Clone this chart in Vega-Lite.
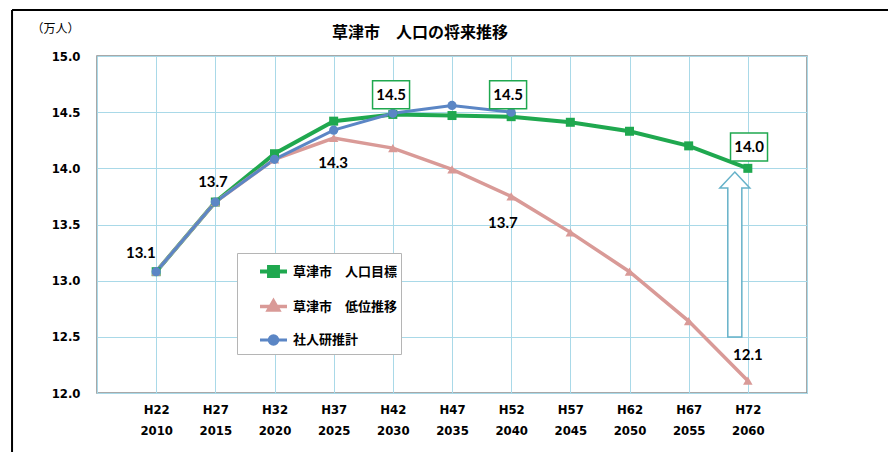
{
  "$schema": "https://vega.github.io/schema/vega-lite/v6.json",
  "autosize": "none",
  "width": 710,
  "height": 337,
  "padding": {"left": 97, "top": 56, "right": 81, "bottom": 59},
  "background": "white",
  "config": {
    "view": {"stroke": "#8c8c8c", "strokeWidth": 1.5},
    "font": "Noto Sans CJK JP"
  },
  "title": {
    "text": "草津市　人口の将来推移",
    "font": "Noto Sans CJK JP",
    "fontSize": 16,
    "fontWeight": "bold",
    "color": "#000000",
    "anchor": "middle",
    "dx": -32,
    "offset": -32
  },
  "datasets": {
    "pop": [
      {"year": 2010, "series": "草津市　人口目標", "value": 13.08},
      {"year": 2015, "series": "草津市　人口目標", "value": 13.70},
      {"year": 2020, "series": "草津市　人口目標", "value": 14.13},
      {"year": 2025, "series": "草津市　人口目標", "value": 14.42},
      {"year": 2030, "series": "草津市　人口目標", "value": 14.48},
      {"year": 2035, "series": "草津市　人口目標", "value": 14.47},
      {"year": 2040, "series": "草津市　人口目標", "value": 14.46},
      {"year": 2045, "series": "草津市　人口目標", "value": 14.41},
      {"year": 2050, "series": "草津市　人口目標", "value": 14.33},
      {"year": 2055, "series": "草津市　人口目標", "value": 14.20},
      {"year": 2060, "series": "草津市　人口目標", "value": 14.00},
      {"year": 2010, "series": "草津市　低位推移", "value": 13.08},
      {"year": 2015, "series": "草津市　低位推移", "value": 13.70},
      {"year": 2020, "series": "草津市　低位推移", "value": 14.08},
      {"year": 2025, "series": "草津市　低位推移", "value": 14.27},
      {"year": 2030, "series": "草津市　低位推移", "value": 14.18},
      {"year": 2035, "series": "草津市　低位推移", "value": 13.99},
      {"year": 2040, "series": "草津市　低位推移", "value": 13.75},
      {"year": 2045, "series": "草津市　低位推移", "value": 13.43},
      {"year": 2050, "series": "草津市　低位推移", "value": 13.08},
      {"year": 2055, "series": "草津市　低位推移", "value": 12.64},
      {"year": 2060, "series": "草津市　低位推移", "value": 12.11},
      {"year": 2010, "series": "社人研推計", "value": 13.08},
      {"year": 2015, "series": "社人研推計", "value": 13.70},
      {"year": 2020, "series": "社人研推計", "value": 14.08},
      {"year": 2025, "series": "社人研推計", "value": 14.34},
      {"year": 2030, "series": "社人研推計", "value": 14.49},
      {"year": 2035, "series": "社人研推計", "value": 14.56},
      {"year": 2040, "series": "社人研推計", "value": 14.50}
    ],
    "labels": [
      {"year": 2008.7, "value": 13.25, "text": "13.1", "boxed": false},
      {"year": 2014.8, "value": 13.88, "text": "13.7", "boxed": false},
      {"year": 2024.95, "value": 14.05, "text": "14.3", "boxed": false},
      {"year": 2029.85, "value": 14.655, "text": "14.5", "boxed": true},
      {"year": 2039.74, "value": 14.655, "text": "14.5", "boxed": true},
      {"year": 2039.3, "value": 13.51, "text": "13.7", "boxed": false},
      {"year": 2060.1, "value": 14.19, "text": "14.0", "boxed": true},
      {"year": 2060.0, "value": 12.34, "text": "12.1", "boxed": false}
    ]
  },
  "layer": [
    {
      "data": {"values": [{}]},
      "mark": {"type": "rule", "color": "#000000", "strokeWidth": 2, "clip": false},
      "encoding": {
        "x": {"datum": 1997.82, "type": "quantitative", "scale": {"domain": [2005, 2065], "nice": false, "zero": false}},
        "x2": {"datum": 2080},
        "y": {"datum": 15.41, "type": "quantitative", "scale": {"domain": [12, 15], "nice": false, "zero": false}}
      }
    },
    {
      "data": {"values": [{}]},
      "mark": {"type": "rule", "color": "#000000", "strokeWidth": 2, "clip": false},
      "encoding": {
        "x": {"datum": 1997.82, "type": "quantitative"},
        "y": {"datum": 15.41, "type": "quantitative"},
        "y2": {"datum": 11.0}
      }
    },
    {
      "data": {"values": [{}]},
      "mark": {
        "type": "point",
        "filled": true,
        "fill": "white",
        "stroke": "#66b2c9",
        "strokeWidth": 1.5,
        "opacity": 1,
        "size": 27225,
        "shape": "M0,-1L0.182,-0.806L0.085,-0.806L0.085,1L-0.085,1L-0.085,-0.806L-0.182,-0.806Z"
      },
      "encoding": {
        "x": {"datum": 2058.9, "type": "quantitative"},
        "y": {"datum": 13.233, "type": "quantitative"}
      }
    },
    {
      "data": {"name": "pop"},
      "mark": {"type": "line"},
      "encoding": {
        "x": {
          "field": "year",
          "type": "quantitative",
          "scale": {"domain": [2005, 2065], "nice": false, "zero": false},
          "axis": {
            "values": [2005, 2010, 2015, 2020, 2025, 2030, 2035, 2040, 2045, 2050, 2055, 2060, 2065],
            "labelExpr": "datum.value == 2005 || datum.value == 2065 ? '' : ['H' + (datum.value - 1988), '' + datum.value]",
            "title": null,
            "grid": true,
            "gridColor": "#a9d9e8",
            "gridWidth": 1,
            "domain": false,
            "ticks": false,
            "labelFont": "Liberation Sans Narrow, DejaVu Sans Condensed, sans-serif",
            "labelFontSize": 13,
            "labelFontWeight": "bold",
            "labelColor": "#000000",
            "labelPadding": 10,
            "labelLineHeight": 21,
            "labelFlush": false,
            "labelOverlap": false
          }
        },
        "y": {
          "field": "value",
          "type": "quantitative",
          "scale": {"domain": [12, 15], "nice": false, "zero": false},
          "axis": {
            "values": [12, 12.5, 13, 13.5, 14, 14.5, 15],
            "format": ".1f",
            "title": "（万人）",
            "titleAngle": 0,
            "titleX": -42,
            "titleY": -28,
            "titleAlign": "center",
            "titleBaseline": "middle",
            "titleFont": "Noto Sans CJK JP",
            "titleFontSize": 12,
            "titleFontWeight": "normal",
            "titleColor": "#000000",
            "grid": true,
            "gridColor": "#a9d9e8",
            "gridWidth": 1,
            "domain": false,
            "ticks": false,
            "labelFont": "Liberation Sans Narrow, DejaVu Sans Condensed, sans-serif",
            "labelFontSize": 13,
            "labelFontWeight": "bold",
            "labelColor": "#000000",
            "labelPadding": 17,
            "labelFlush": false,
            "labelOverlap": false
          }
        },
        "color": {
          "field": "series",
          "type": "nominal",
          "scale": {
            "domain": ["草津市　人口目標", "草津市　低位推移", "社人研推計"],
            "range": ["#1fa84f", "#d99a97", "#5b86c5"]
          },
          "legend": {
            "orient": "none",
            "legendX": 140,
            "legendY": 197,
            "title": null,
            "padding": 3,
            "fillColor": "white",
            "strokeColor": "#b5b5b5",
            "symbolSize": 729,
            "symbolType": "M-1,0H1",
            "symbolStrokeWidth": 3,
            "symbolOffset": 18,
            "labelOffset": 4,
            "rowPadding": 7,
            "labelFont": "Noto Sans CJK JP",
            "labelFontSize": 13,
            "labelFontWeight": "bold",
            "labelColor": "#000000",
            "labelLimit": 300,
            "labelExpr": "datum.label + '　　'",
            "encode": {
              "symbols": {
                "update": {
                  "shape": {"signal": "datum.value === '草津市　人口目標' ? 'M-1,0H1M-0.33,-0.33H0.33V0.33H-0.33Z' : datum.value === '草津市　低位推移' ? 'M-1,0H1M0,-0.4L0.38,0.26L-0.38,0.26Z' : 'M-1,0H1M-0.32,0A0.32,0.32 0 1,0 0.32,0A0.32,0.32 0 1,0 -0.32,0Z'"},
                  "fill": {"signal": "datum.value === '草津市　人口目標' ? '#1fa84f' : datum.value === '草津市　低位推移' ? '#d99a97' : '#5b86c5'"},
                  "stroke": {"signal": "datum.value === '草津市　人口目標' ? '#1fa84f' : datum.value === '草津市　低位推移' ? '#d99a97' : '#5b86c5'"},
                  "strokeWidth": {"value": 3},
                  "opacity": {"value": 1},
                  "fillOpacity": {"value": 1}
                }
              }
            }
          }
        },
        "strokeWidth": {
          "field": "series",
          "type": "nominal",
          "scale": {"domain": ["草津市　人口目標", "草津市　低位推移", "社人研推計"], "range": [4, 3, 2.5]},
          "legend": null
        }
      }
    },
    {
      "data": {"name": "pop"},
      "transform": [{"filter": "datum.series === '草津市　人口目標'"}],
      "mark": {"type": "point", "filled": true, "opacity": 1, "size": 81, "shape": "square"},
      "encoding": {
        "x": {"field": "year", "type": "quantitative"},
        "y": {"field": "value", "type": "quantitative"},
        "color": {"field": "series", "type": "nominal"}
      }
    },
    {
      "data": {"name": "pop"},
      "transform": [{"filter": "datum.series === '草津市　低位推移'"}],
      "mark": {"type": "point", "filled": true, "opacity": 1, "size": 90, "shape": "triangle-up"},
      "encoding": {
        "x": {"field": "year", "type": "quantitative"},
        "y": {"field": "value", "type": "quantitative"},
        "color": {"field": "series", "type": "nominal"}
      }
    },
    {
      "data": {"name": "pop"},
      "transform": [{"filter": "datum.series === '社人研推計'"}],
      "mark": {"type": "point", "filled": true, "opacity": 1, "size": 85, "shape": "circle"},
      "encoding": {
        "x": {"field": "year", "type": "quantitative"},
        "y": {"field": "value", "type": "quantitative"},
        "color": {"field": "series", "type": "nominal"}
      }
    },
    {
      "data": {"name": "labels"},
      "transform": [{"filter": "datum.boxed"}],
      "mark": {
        "type": "point",
        "filled": true,
        "fill": "white",
        "stroke": "#1fa84f",
        "strokeWidth": 1.5,
        "opacity": 1,
        "size": 1369,
        "shape": "M-1,-0.757H1V0.757H-1Z"
      },
      "encoding": {
        "x": {"field": "year", "type": "quantitative"},
        "y": {"field": "value", "type": "quantitative"}
      }
    },
    {
      "data": {"name": "labels"},
      "mark": {
        "type": "text",
        "font": "Lato",
        "fontSize": 15,
        "fontWeight": "bold",
        "color": "#000000",
        "align": "center",
        "baseline": "middle"
      },
      "encoding": {
        "x": {"field": "year", "type": "quantitative"},
        "y": {"field": "value", "type": "quantitative"},
        "text": {"field": "text"}
      }
    }
  ]
}
